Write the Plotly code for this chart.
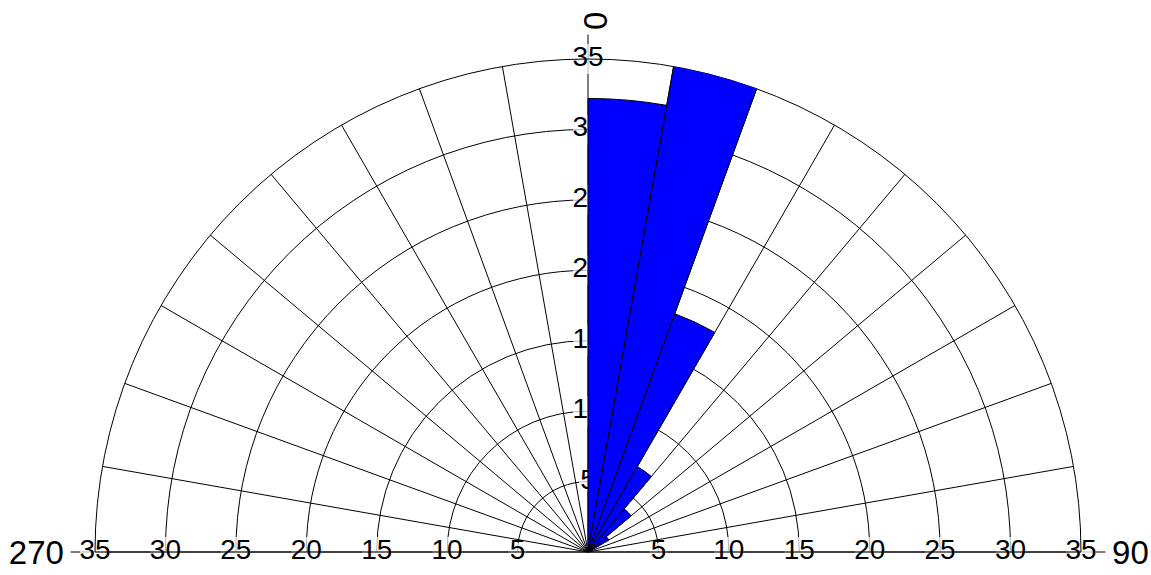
import plotly.graph_objects as go

# Direction bins (start of each 10-degree sector, compass degrees) and frequencies
bin_start_deg = [270, 280, 290, 300, 310, 320, 330, 340, 350,
                 0, 10, 20, 30, 40, 50, 60, 70, 80]
frequency = [0, 0, 0, 0, 0, 0, 0, 0, 0,
             32.2, 35.2, 18.0, 7.0, 4.0, 1.7, 0, 0, 0]

# Radial scale labels
radial_ticks = [5, 10, 15, 20, 25, 30, 35]
radial_labels = ["5", "10", "15", "20", "25", "30", "35"]

# Compass labels (west, north, east)
compass_vals = [-90, 0, 90]
compass_text = ["270", "", "90"]

BIN_WIDTH = 10
FONT = "Liberation Sans"
TICK_SIZE = 28
COMPASS_SIZE = 33

bar_theta = [b + BIN_WIDTH / 2 for b in bin_start_deg]
spoke_vals = list(range(-90, 91, 10))


def box_size(label):
    # white backing square that breaks the grid line behind a label
    return 6 + 12 * len(label)


common_angular = dict(direction="clockwise", rotation=90)
common_polar = dict(sector=[0, 180], domain=dict(x=[0, 1], y=[0, 1]), hole=0)

fig = go.Figure()

# polar: compass ticks and labels (bottom layer)
fig.add_trace(go.Scatterpolar(r=[], theta=[], subplot="polar", showlegend=False))

# polar2: grid plus radial scale labels
axis_theta = [0] * len(radial_ticks)
fig.add_trace(go.Scatterpolar(
    r=radial_ticks, theta=axis_theta, text=radial_labels,
    mode="markers+text", textposition="middle center",
    marker=dict(symbol="square", color="white", size=[box_size(t) for t in radial_labels],
                line=dict(width=0)),
    textfont=dict(family=FONT, size=TICK_SIZE, color="black"),
    cliponaxis=False, hoverinfo="skip", showlegend=False, subplot="polar2"))

side_r = radial_ticks + radial_ticks
side_theta = [-90] * len(radial_ticks) + [90] * len(radial_ticks)
side_text = radial_labels + radial_labels
fig.add_trace(go.Scatterpolar(
    r=side_r, theta=side_theta, text=side_text,
    mode="markers+text", textposition="middle center",
    marker=dict(symbol="square", color="white", size=[box_size(t) for t in side_text],
                line=dict(width=0)),
    textfont=dict(family=FONT, size=TICK_SIZE, color="black"),
    cliponaxis=False, hoverinfo="skip", showlegend=False, subplot="polar2"))

# polar3: the rose bars
fig.add_trace(go.Barpolar(
    r=frequency, theta=bar_theta, width=[BIN_WIDTH] * len(bar_theta),
    marker=dict(color="#0000FF", line=dict(color="black", width=1)),
    showlegend=False, subplot="polar3"))

hidden_radial = dict(visible=False, range=[0, 35])

fig.update_layout(
    width=1151, height=575,
    margin=dict(l=95, r=70, t=59, b=23),
    paper_bgcolor="white",
    font=dict(family=FONT, color="black"),
    polar=dict(
        **common_polar, bgcolor="white",
        radialaxis=hidden_radial,
        angularaxis=dict(**common_angular, tickmode="array", tickvals=compass_vals,
                         ticktext=compass_text, ticks="outside", ticklen=24,
                         tickcolor="black", tickwidth=1, showgrid=False, showline=False,
                         tickfont=dict(family=FONT, size=COMPASS_SIZE, color="black")),
    ),
    polar2=dict(
        **common_polar, bgcolor="rgba(0,0,0,0)",
        radialaxis=dict(range=[0, 35], tickvals=radial_ticks, showticklabels=False,
                        ticks="", showline=False, showgrid=True,
                        gridcolor="black", gridwidth=1),
        angularaxis=dict(**common_angular, tickmode="array",
                         tickvals=spoke_vals, showticklabels=False,
                         ticks="", showgrid=True, gridcolor="black", gridwidth=1,
                         showline=True, linecolor="black", linewidth=1),
    ),
    polar3=dict(
        **common_polar, bgcolor="rgba(0,0,0,0)",
        radialaxis=hidden_radial,
        angularaxis=dict(**common_angular, visible=False),
        bargap=0,
    ),
    annotations=[dict(text="0", textangle=-90, xref="paper", yref="paper",
                      x=0.5, y=1, xanchor="center", yanchor="middle",
                      xshift=7, yshift=38, showarrow=False,
                      font=dict(family=FONT, size=COMPASS_SIZE, color="black"))],
)

fig.write_html("out.html")
